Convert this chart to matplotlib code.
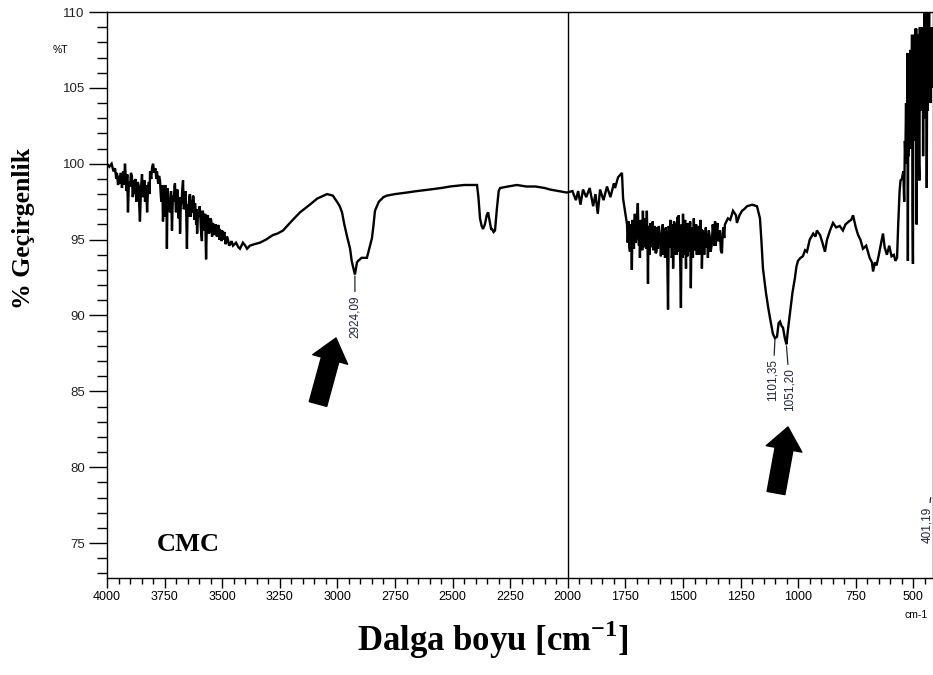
import matplotlib
matplotlib.use("Agg")
import matplotlib.pyplot as plt
from matplotlib import font_manager
from matplotlib.ticker import MultipleLocator

# FTIR spectrum of CMC
wavenumber = [
    4000, 3990, 3980, 3972, 3965, 3960, 3957, 3952, 3948, 3944, 3940, 3935, 3930, 3926,
    3922, 3918, 3915, 3912, 3909, 3905, 3900, 3896, 3892, 3888, 3884, 3880, 3876, 3873,
    3870, 3866, 3862, 3860, 3857, 3852, 3848, 3844, 3840, 3837, 3835, 3830, 3826, 3822,
    3818, 3815, 3813, 3808, 3804, 3800, 3795, 3790, 3786, 3783, 3778, 3774, 3770, 3766,
    3763, 3760, 3757, 3753, 3750, 3747, 3745, 3742, 3740, 3737, 3735, 3730, 3726, 3722,
    3718, 3714, 3710, 3707, 3705, 3701, 3698, 3695, 3692, 3690, 3688, 3685, 3683, 3680,
    3676, 3673, 3670, 3667, 3663, 3660, 3657, 3655, 3653, 3650, 3646, 3643, 3640, 3636,
    3633, 3630, 3627, 3624, 3621, 3618, 3615, 3613, 3611, 3609, 3605, 3600, 3598, 3596,
    3592, 3588, 3586, 3583, 3580, 3577, 3574, 3570, 3566, 3562, 3558, 3555, 3552, 3548,
    3544, 3540, 3536, 3532, 3528, 3523, 3519, 3515, 3512, 3510, 3506, 3503, 3500, 3497,
    3493, 3490, 3486, 3483, 3479, 3475, 3470, 3465, 3460, 3453, 3440, 3430, 3423, 3410,
    3400, 3392, 3380, 3360, 3336, 3310, 3280, 3260, 3236, 3200, 3162, 3120, 3088, 3060,
    3045, 3020, 3002, 2990, 2980, 2970, 2958, 2945, 2938, 2932, 2924, 2915, 2910, 2895,
    2872, 2860, 2850, 2843, 2837, 2820, 2800, 2785, 2750, 2700, 2654, 2600, 2550, 2511,
    2450, 2400, 2394, 2388, 2381, 2374, 2368, 2360, 2352, 2346, 2340, 2333, 2329, 2322,
    2316, 2308, 2300, 2294, 2260, 2221, 2180, 2140, 2100, 2077, 2040, 2004, 1980, 1965,
    1955, 1945, 1934, 1920, 1905, 1890, 1880, 1870, 1860, 1845, 1830, 1815, 1800, 1795,
    1782, 1765, 1760, 1752, 1743, 1740, 1736, 1733, 1730, 1728, 1726, 1724, 1722, 1719,
    1716, 1713, 1709, 1706, 1702, 1699, 1696, 1693, 1691, 1689, 1687, 1684, 1680, 1677,
    1674, 1671, 1668, 1665, 1662, 1660, 1657, 1654, 1652, 1650, 1648, 1646, 1644, 1641,
    1638, 1634, 1631, 1629, 1627, 1624, 1622, 1619, 1615, 1612, 1609, 1605, 1600, 1596,
    1592, 1588, 1585, 1581, 1578, 1575, 1571, 1568, 1565, 1562, 1558, 1555, 1552, 1549,
    1547, 1545, 1543, 1539, 1536, 1533, 1530, 1528, 1526, 1524, 1522, 1519, 1515, 1512,
    1509, 1506, 1504, 1502, 1500, 1497, 1494, 1491, 1487, 1485, 1483, 1481, 1479, 1476,
    1472, 1469, 1466, 1463, 1460, 1457, 1453, 1450, 1446, 1443, 1440, 1436, 1433, 1430,
    1427, 1424, 1422, 1420, 1418, 1414, 1411, 1408, 1405, 1401, 1398, 1395, 1392, 1388,
    1384, 1380, 1375, 1371, 1368, 1364, 1361, 1358, 1355, 1351, 1348, 1344, 1340, 1336,
    1331, 1328, 1325, 1321, 1318, 1305, 1295, 1283, 1270, 1266, 1255, 1244, 1235, 1222,
    1200, 1179, 1166, 1160, 1153, 1140, 1130, 1122, 1110, 1101, 1092, 1085, 1079, 1072,
    1066, 1058, 1051, 1045, 1036, 1025, 1014, 1008, 1001, 990, 980, 970, 962, 950,
    935, 925, 919, 905, 895, 884, 875, 862, 849, 835, 820, 806, 795, 780,
    770, 762, 750, 740, 730, 719, 705, 690, 680, 675, 667, 660, 650, 640,
    632, 625, 615, 605, 595, 585, 578, 571, 566, 560, 556, 550, 544, 540,
    537, 535, 532, 530, 528, 526, 524, 522, 520, 518, 516, 514, 512, 510,
    508, 506, 504, 502, 500, 498, 496, 494, 492, 490, 488, 486, 484, 482,
    480, 478, 476, 474, 472, 470, 468, 466, 464, 462, 460, 458, 456, 454,
    452, 450, 448, 446, 444, 442, 440, 438, 436, 434, 432, 430, 428, 425,
    422, 420, 418, 415,
]
transmittance = [
    100.0, 99.8, 100.0, 99.5, 99.7, 99.0, 99.4, 98.6, 99.2, 98.7, 99.4, 98.4, 99.5, 98.6,
    100.0, 98.9, 98.2, 99.3, 96.8, 98.8, 98.5, 99.4, 99.2, 97.8, 98.9, 98.0, 99.0, 97.5,
    97.7, 98.8, 98.5, 97.2, 96.2, 98.5, 99.3, 97.8, 98.0, 98.9, 97.5, 98.6, 96.8, 98.4,
    98.8, 98.0, 99.5, 99.0, 99.8, 100.0, 99.4, 99.7, 99.0, 99.5, 98.7, 99.2, 98.9, 97.8,
    97.5, 98.6, 96.2, 98.3, 97.8, 98.6, 96.5, 97.8, 94.4, 98.4, 98.0, 97.0, 96.8, 98.2,
    95.6, 97.9, 97.5, 98.5, 98.7, 96.8, 97.0, 98.3, 97.7, 96.4, 96.5, 97.8, 95.4, 97.2,
    97.6, 98.4, 98.9, 97.0, 97.2, 98.2, 97.4, 96.0, 94.4, 97.3, 96.5, 97.8, 98.0, 96.5,
    97.6, 96.8, 97.9, 97.8, 96.3, 97.4, 96.9, 96.0, 97.0, 95.4, 96.8, 96.5, 97.2, 96.9,
    95.6, 94.9, 96.9, 96.8, 95.6, 95.8, 96.7, 93.7, 96.5, 96.6, 95.4, 95.5, 96.4, 96.3,
    95.2, 96.1, 95.6, 95.3, 96.0, 95.2, 95.9, 95.9, 95.0, 95.7, 95.4, 94.9, 95.6, 95.0,
    95.4, 95.5, 94.7, 94.8, 95.2, 95.0, 94.6, 94.7, 94.9, 94.6, 94.8, 94.5, 94.4, 94.8,
    94.6, 94.4, 94.6, 94.7, 94.8, 95.0, 95.3, 95.4, 95.6, 96.2, 96.8, 97.3, 97.7, 97.9,
    98.0, 97.9, 97.5, 97.2, 96.8, 96.0, 95.2, 94.4, 93.6, 93.2, 92.7, 93.5, 93.6, 93.8,
    93.8, 94.5, 95.1, 96.0, 96.9, 97.5, 97.8, 97.9, 98.0, 98.1, 98.2, 98.3, 98.4, 98.5,
    98.6, 98.6, 98.6, 97.8, 96.4, 95.9, 95.7, 96.0, 96.6, 96.8, 96.3, 95.7, 95.7, 95.5,
    95.6, 97.0, 98.2, 98.4, 98.5, 98.6, 98.5, 98.5, 98.4, 98.3, 98.2, 98.1, 98.2, 97.6,
    98.2, 97.3, 98.3, 97.8, 98.4, 97.2, 98.0, 96.7, 98.3, 97.6, 98.5, 97.8, 98.7, 98.4,
    99.1, 99.4, 97.7, 96.9, 96.0, 94.8, 96.2, 94.5, 94.2, 96.0, 95.8, 94.6, 93.0, 96.3,
    95.5, 94.4, 96.7, 94.8, 95.2, 96.5, 97.4, 95.0, 94.6, 96.2, 93.8, 96.3, 95.8, 94.3,
    96.9, 94.6, 94.5, 96.4, 96.0, 94.4, 96.9, 94.8, 92.1, 95.9, 95.0, 94.0, 95.4, 96.1,
    94.5, 95.9, 96.2, 94.3, 94.8, 95.9, 95.6, 94.1, 94.2, 95.8, 94.4, 95.9, 95.3, 93.9,
    95.1, 96.0, 94.0, 95.7, 93.8, 95.8, 95.0, 93.6, 90.4, 95.9, 94.5, 96.3, 95.6, 93.8,
    94.0, 96.0, 93.1, 96.2, 95.5, 94.0, 96.1, 94.0, 94.5, 96.5, 94.2, 96.6, 95.0, 93.5,
    90.5, 96.0, 95.2, 93.8, 96.7, 94.0, 94.8, 96.3, 93.1, 96.0, 95.5, 93.9, 96.1, 94.2,
    94.6, 96.2, 91.8, 95.8, 95.0, 93.8, 96.4, 94.3, 95.0, 96.0, 94.0, 95.9, 95.2, 94.0,
    95.6, 96.3, 94.2, 95.7, 93.1, 95.6, 95.0, 94.0, 94.9, 95.8, 94.5, 95.4, 93.8, 95.6,
    95.2, 94.2, 94.7, 96.0, 95.5, 94.6, 96.2, 94.6, 95.3, 96.1, 94.9, 95.0, 95.6, 94.3,
    94.1, 95.4, 95.8, 95.1, 96.0, 96.4, 96.3, 96.9, 96.6, 96.1, 96.6, 96.9, 97.0, 97.2,
    97.3, 97.2, 96.4, 95.0, 93.1, 91.5, 90.5, 89.8, 88.8, 88.5, 88.6, 89.5, 89.6, 89.3,
    89.2, 88.5, 88.1, 89.0, 90.1, 91.5, 92.5, 93.2, 93.6, 93.8, 93.9, 94.3, 94.2, 95.0,
    95.4, 95.2, 95.6, 95.3, 94.8, 94.2, 95.0, 95.6, 96.1, 95.8, 95.9, 95.6, 96.0, 96.2,
    96.3, 96.6, 95.8, 95.3, 95.0, 94.4, 94.6, 93.8, 93.5, 92.9, 93.5, 93.3, 94.0, 94.8,
    95.4, 94.5, 94.0, 94.6, 93.9, 94.0, 93.6, 93.8, 96.0, 98.2, 98.9, 99.0, 99.5, 97.5,
    101.5, 100.5, 104.0, 100.0, 100.9, 107.3, 93.6, 106.8, 100.5, 107.0, 103.0, 107.5, 106.0, 101.0,
    104.5, 108.5, 97.0, 93.4, 108.0, 103.0, 108.5, 102.0, 108.9, 101.5, 108.9, 96.0, 108.5, 104.0,
    108.5, 106.0, 100.0, 98.9, 109.0, 103.5, 109.0, 104.0, 108.0, 105.0, 109.0, 100.5, 107.0, 103.0,
    110.5, 104.0, 110.5, 105.0, 109.5, 98.4, 109.5, 103.5, 110.5, 106.0, 110.5, 105.0, 109.0, 104.0,
    108.0, 105.0, 109.0, 107.0,
]

# peak labels
peak_labels = ["2924,09", "1101,35", "1051,20"]
peak_x = [2924, 1101, 1051]
peak_y = [92.6, 88.4, 88.0]
label_x = [2924, 1110, 1036]
label_top = [91.3, 87.1, 86.5]

names = {f.name for f in font_manager.fontManager.ttflist}
tick_font = "Liberation Sans Narrow" if "Liberation Sans Narrow" in names else "Liberation Sans"

plt.rcParams["font.family"] = "Liberation Sans"

fig = plt.figure(figsize=(9.33, 6.75), dpi=100)
ax = fig.add_axes([107 / 933, 97 / 675, 826 / 933, 566 / 675])

ax.plot(wavenumber, transmittance, color="black", lw=1.7, solid_joinstyle="miter")
ax.axvline(2000, color="black", lw=1.0)

ax.set_xlim(4000, 415)
ax.set_ylim(72.7, 110)

ax.xaxis.set_major_locator(MultipleLocator(250))
ax.xaxis.set_minor_locator(MultipleLocator(50))
ax.yaxis.set_major_locator(MultipleLocator(5))
ax.yaxis.set_minor_locator(MultipleLocator(1))
ax.tick_params(axis="x", which="major", direction="out", length=7, width=1, pad=2)
ax.tick_params(axis="x", which="minor", direction="out", length=4, width=1)
ax.tick_params(axis="y", which="major", direction="out", length=13, width=1, pad=3)
ax.tick_params(axis="y", which="minor", direction="out", length=7, width=1)
ax.tick_params(top=False, right=False, which="both")
for lab in ax.get_xticklabels():
    lab.set_fontfamily(tick_font)
    lab.set_fontsize(9)
for lab in ax.get_yticklabels():
    lab.set_fontsize(9.5)
    lab.set_color("#222222")
for s in ax.spines.values():
    s.set_linewidth(1.0)

ax.text(-0.057, 0.933, "%T", transform=ax.transAxes, ha="center", va="center", fontsize=7.5)
ax.text(0.966, -0.065, "cm-1", transform=ax.transAxes, ha="left", va="center", fontsize=7.5)

for txt, px, py, lx, ly in zip(peak_labels, peak_x, peak_y, label_x, label_top):
    ax.annotate(txt, xy=(px, py), xytext=(lx, ly), rotation=90, ha="center", va="top",
                fontsize=8.5, color="#1c2440",
                arrowprops=dict(arrowstyle="-", lw=0.9, color="#1c2440", shrinkA=1, shrinkB=0))
ax.annotate("401,19", xy=(425, 78.0), xytext=(441, 77.4), rotation=90, ha="center", va="top",
            fontsize=8.5, color="#1c2440", annotation_clip=False,
            arrowprops=dict(arrowstyle="-", lw=0.9, color="#1c2440", shrinkA=1, shrinkB=0))

ax.text(3648, 74.9, "CMC", ha="center", va="center", fontsize=19,
        fontfamily="Liberation Serif", fontweight="bold")

# big black arrows pointing at the peaks
arrow_style = "simple,head_length=1.6,head_width=2.6,tail_width=1.3"
for tail, tip in [((318, 271), (336, 337)), ((776, 182), (788, 248))]:
    ax.annotate("", xy=tip, xytext=tail, xycoords="figure pixels", textcoords="figure pixels",
                arrowprops=dict(arrowstyle=arrow_style, color="black", mutation_scale=10,
                                shrinkA=0, shrinkB=0))

fig.text(24 / 933, 1 - 228 / 675, "% Geçirgenlik", rotation=90, ha="center", va="center",
         fontsize=18.5, fontfamily="Liberation Serif", fontweight="bold")
fig.text(493 / 933, 1 - 640 / 675, "Dalga boyu [cm$^{\\mathregular{-1}}$]", ha="center",
         va="center", fontsize=25, fontfamily="Liberation Serif", fontweight="bold")

fig.savefig("out.png", dpi=100)
